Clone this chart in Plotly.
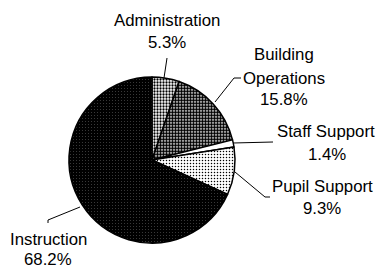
import plotly.graph_objects as go

categories = ["Administration", "Building Operations", "Staff Support", "Pupil Support", "Instruction"]
shares = [5.3, 15.8, 1.4, 9.3, 68.2]
label_lines = [["Administration"], ["Building", "Operations"], ["Staff Support"], ["Pupil Support"], ["Instruction"]]

W, H = 378, 268
cx, cy, r = 152, 160, 83

fig = go.Figure(go.Pie(
    labels=categories,
    values=shares,
    sort=False,
    direction="clockwise",
    rotation=0,
    textinfo="none",
    hoverinfo="label+percent",
    showlegend=False,
    domain=dict(x=[(cx - r) / W, (cx + r) / W], y=[1 - (cy + r) / H, 1 - (cy - r) / H]),
    marker=dict(
        colors=["#a0a0a0", "#6e6e6e", "#ffffff", "#e0e0e0", "#111111"],
        line=dict(color="#000000", width=1.5),
        pattern=dict(
            shape=[".", ".", "", ".", "."],
            fgcolor=["#000000", "#000000", "#000000", "#000000", "#ffffff"],
            bgcolor=["#ffffff", "#ffffff", "#ffffff", "#ffffff", "#000000"],
            size=[3, 3, 3, 3, 3],
            solidity=[0.45, 0.7, 0.1, 0.2, 0.035],
            fillmode="replace",
        ),
    ),
))

# label positions (pixel centres of each text line) and leader lines
label_pos = [
    [(167, 20), (167, 43)],
    [(284, 55), (284, 78), (284, 100)],
    [(326, 131), (327, 154)],
    [(322, 186), (322, 208)],
    [(48, 239), (48, 259)],
]
leaders = [
    [(167, 58), (164, 78)],
    [(241, 78), (234, 78), (215, 102)],
    [(273, 142), (233, 143)],
    [(270, 197), (265, 197), (235, 172)],
    [(48, 223), (48, 220), (80, 207)],
]

annotations = []
for lines, val, pos in zip(label_lines, shares, label_pos):
    texts = lines + [f"{val}%"]
    for t, (px, py) in zip(texts, pos):
        annotations.append(dict(
            x=px / W, y=1 - py / H, xref="paper", yref="paper",
            text=t, showarrow=False, xanchor="center", yanchor="middle",
            font=dict(family="Liberation Sans, Arial, sans-serif", size=16.8, color="#000000"),
        ))

shapes = []
for pts in leaders:
    path = "M " + " L ".join(f"{px / W},{1 - py / H}" for px, py in pts)
    shapes.append(dict(type="path", path=path, xref="paper", yref="paper",
                       line=dict(color="#000000", width=1)))

fig.update_layout(
    width=W, height=H,
    margin=dict(l=0, r=0, t=0, b=0),
    paper_bgcolor="#ffffff",
    plot_bgcolor="#ffffff",
    annotations=annotations,
    shapes=shapes,
)

fig.write_html(
    "out.html",
    config={"displayModeBar": False},
    post_script="document.body.style.margin='0';document.body.style.overflow='hidden';",
)
